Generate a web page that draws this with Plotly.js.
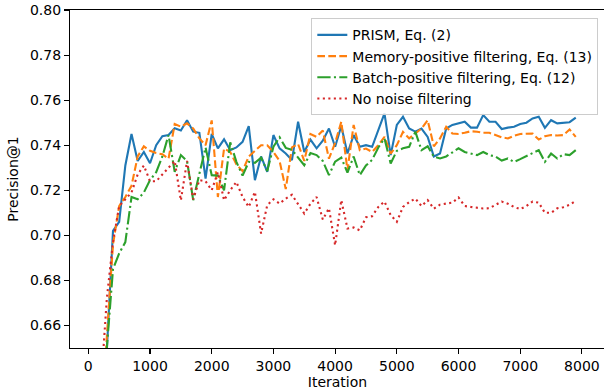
<!DOCTYPE html>
<html>
<head>
<meta charset="utf-8">
<script src="https://cdn.plot.ly/plotly-3.0.1.min.js"></script>
<style>
html,body{margin:0;padding:0;overflow:hidden;background:#fff;}
#chart{width:608px;height:392px;}
</style>
</head>
<body>
<div id="chart"></div>
<script>
const iterations = [100,200,300,400,500,600,700,800,900,1000,1100,1200,1300,1400,1500,1600,1700,1800,1900,2000,
2100,2200,2300,2400,2500,2600,2700,2800,2900,3000,3100,3200,3300,3400,3500,3600,3700,3800,3900,4000,
4100,4200,4300,4400,4500,4600,4700,4800,4900,5000,5100,5200,5300,5400,5500,5600,5700,5800,5900,6000,
6100,6200,6300,6400,6500,6600,6700,6800,6900,7000,7100,7200,7300,7400,7500,7600,7700,7800,7900];

const prism = [0.560,0.605,0.649,0.702,0.706,0.731,0.745,0.733,0.737,0.732,
0.740,0.744,0.7445,0.7475,0.7465,0.7511,0.746,0.7455,0.7252,0.745,
0.7386,0.7426,0.7378,0.739,0.7415,0.7485,0.7245,0.735,0.7282,0.7445,
0.7386,0.7363,0.7334,0.7504,0.737,0.7425,0.7386,0.742,0.7474,0.7393,
0.7485,0.7363,0.7445,0.7393,0.740,0.7393,0.7465,0.7541,0.7356,0.749,
0.7526,0.7474,0.746,0.7474,0.7437,0.735,0.7363,0.7474,0.749,0.7497,
0.7504,0.7478,0.7478,0.7534,0.7504,0.7504,0.7472,0.7478,0.7482,0.7494,
0.750,0.7519,0.7526,0.7477,0.7511,0.7497,0.750,0.7502,0.7522];

const memoryPos = [0.560,0.610,0.655,0.696,0.713,0.717,0.722,0.735,0.7395,0.7375,
0.7365,0.736,0.734,0.7494,0.7482,0.7497,0.7474,0.743,0.740,0.751,
0.717,0.7385,0.737,0.7315,0.7285,0.735,0.7375,0.740,0.740,0.737,
0.733,0.7205,0.739,0.7405,0.733,0.745,0.7437,0.7465,0.734,0.741,
0.7504,0.7289,0.749,0.7378,0.7385,0.737,0.740,0.7437,0.7363,0.740,
0.7459,0.743,0.7452,0.7474,0.7511,0.7395,0.743,0.7482,0.7452,0.745,
0.7455,0.7462,0.746,0.7455,0.7455,0.7445,0.7435,0.743,0.7442,0.745,
0.7452,0.7452,0.7425,0.744,0.7445,0.7443,0.7445,0.747,0.7437];

const batchPos = [0.560,0.600,0.650,0.685,0.692,0.697,0.717,0.716,0.719,0.7245,
0.728,0.735,0.7445,0.7282,0.7356,0.733,0.7156,0.728,0.739,0.7267,
0.7265,0.720,0.7413,0.7326,0.7265,0.7326,0.7322,0.7345,0.7285,0.7393,
0.7435,0.7388,0.738,0.7345,0.7311,0.7365,0.7356,0.733,0.7267,0.7327,
0.7345,0.7278,0.735,0.7267,0.731,0.7335,0.739,0.743,0.7319,0.7375,
0.7386,0.7393,0.746,0.7378,0.7395,0.7349,0.7341,0.735,0.737,0.7386,
0.737,0.7363,0.7356,0.737,0.7356,0.735,0.7332,0.7341,0.7326,0.7338,
0.735,0.7365,0.7378,0.7326,0.7363,0.7341,0.736,0.7356,0.7378];

const noFilter = [0.590,0.632,0.672,0.697,0.713,0.716,0.719,0.727,0.731,0.724,
0.724,0.727,0.730,0.733,0.7155,0.733,0.716,0.7245,0.724,0.720,
0.728,0.7156,0.720,0.7237,0.717,0.7126,0.7193,0.7008,0.7134,0.716,
0.7141,0.7163,0.718,0.714,0.7097,0.714,0.717,0.707,0.712,0.6956,
0.7156,0.703,0.7035,0.7022,0.708,0.7085,0.7126,0.715,0.709,0.706,
0.7126,0.7147,0.7163,0.713,0.7156,0.7118,0.7136,0.7141,0.7145,0.7168,
0.713,0.7126,0.7123,0.7119,0.712,0.7135,0.715,0.714,0.7126,0.7116,
0.713,0.715,0.7145,0.710,0.710,0.712,0.7125,0.7135,0.7153];

const seriesNames = ["PRISM, Eq. (2)","Memory-positive filtering, Eq. (13)","Batch-positive filtering, Eq. (12)","No noise filtering"];
const xTicks = [0,1000,2000,3000,4000,5000,6000,7000,8000];
const yTicks = [0.66,0.68,0.70,0.72,0.74,0.76,0.78,0.80];

const FONT = "DejaVu Sans, sans-serif";
const lw = 2.1;
function tr(y, name, color, dash){
  return {x: iterations, y: y, name: name, type: "scatter", mode: "lines",
    line: {color: color, width: lw, dash: dash}, cliponaxis: true};
}
const data = [
  tr(prism, seriesNames[0], "#1f77b4", "solid"),
  tr(memoryPos, seriesNames[1], "#ff7f0e", "7.7px,3.3px"),
  tr(batchPos, seriesNames[2], "#2ca02c", "13.3px,3.3px,2.1px,3.3px"),
  tr(noFilter, seriesNames[3], "#d62728", "2.1px,3.4px")
];
const layout = {
  width: 608, height: 392,
  margin: {l: 70, r: 3, t: 10, b: 44, pad: 0},
  paper_bgcolor: "#fff", plot_bgcolor: "#fff",
  font: {family: FONT, size: 14, color: "#000"},
  showlegend: true,
  legend: {x: 0.9875, xanchor: "right", y: 0.9754, yanchor: "top",
    bgcolor: "rgba(255,255,255,0.8)", bordercolor: "#cccccc", borderwidth: 1,
    font: {family: FONT, size: 14, color: "#000"}},
  xaxis: {range: [-297, 8374], tickvals: xTicks, ticktext: xTicks.map(String),
    showgrid: false, zeroline: false, showline: true, mirror: true, linecolor: "#000", linewidth: 1.1,
    ticks: "outside", ticklen: 5, tickwidth: 1.1, tickcolor: "#000",
    tickfont: {family: FONT, size: 14, color: "#000"},
    title: {text: "Iteration", font: {family: FONT, size: 14, color: "#000"}, standoff: 4}},
  yaxis: {range: [0.65, 0.80], tickvals: yTicks, ticktext: yTicks.map(v => v.toFixed(2)),
    showgrid: false, zeroline: false, showline: true, mirror: true, linecolor: "#000", linewidth: 1.1,
    ticks: "outside", ticklen: 5, tickwidth: 1.1, tickcolor: "#000",
    tickfont: {family: FONT, size: 14, color: "#000"},
    title: {text: "Precision@1", font: {family: FONT, size: 14, color: "#000"}, standoff: 8}}
};
Plotly.newPlot("chart", data, layout, {displayModeBar: false, staticPlot: true});
</script>
</body>
</html>
